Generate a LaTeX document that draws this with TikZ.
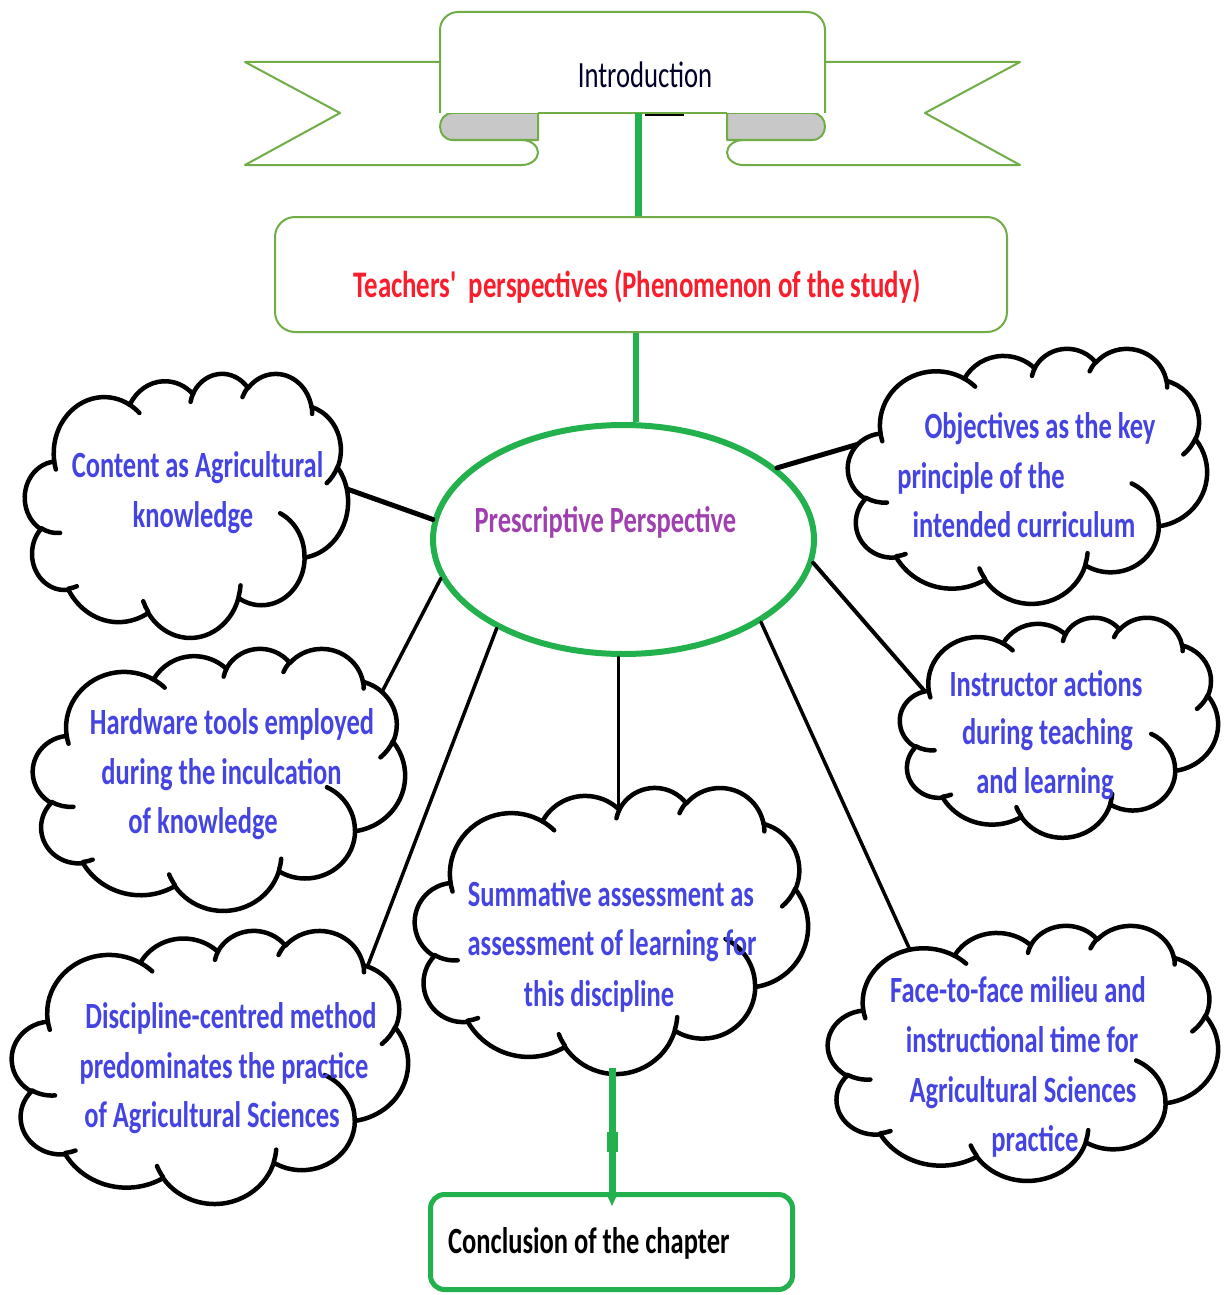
\documentclass[tikz,border=0pt]{standalone}
\usepackage{fontspec}
\setmainfont{Carlito}[FakeStretch=0.72]
\newfontfamily\boldcond{Carlito}[FakeStretch=0.716]
\usetikzlibrary{shapes.geometric}

\definecolor{bannerg}{RGB}{112,173,71}
\definecolor{linkg}{RGB}{34,177,76}
\definecolor{foldgray}{RGB}{200,200,200}
\definecolor{cloudblue}{RGB}{68,68,226}
\definecolor{perspurple}{RGB}{160,64,176}
\definecolor{teachred}{RGB}{250,30,45}

% Puff arcs of the cloud outline, given with visual angles on a 432x432 grid;
% each one is turned into a style holding the parametric start/end angles.
\newcommand\cloudarcdef[5]{%
  \pgfmathsetmacro\cldtmpa{atan2((#2)*sin(#4),(#3)*cos(#4))}%
  \pgfmathsetmacro\cldtmpb{atan2((#2)*sin((#4)+(#5)),(#3)*cos((#4)+(#5)))}%
  \pgfmathsetmacro\cldtmpb{\cldtmpb+360*round((\cldtmpa+(#5)-\cldtmpb)/360)}%
  \edef\cldtmpc{\noexpand\tikzset{cld#1/.style={start angle=\cldtmpa,end angle=\cldtmpb,x radius=#2,y radius=#3}}}%
  \cldtmpc}
% outline
\cloudarcdef{A}{67.53}{91.90}{-190.4875}{123.7805}
\cloudarcdef{B}{53.33}{72.67}{-144.1024}{89.9452}
\cloudarcdef{C}{43.65}{59.45}{-145.8079}{99.7230}
\cloudarcdef{D}{48.57}{65.95}{-130.9861}{117.2417}
\cloudarcdef{E}{53.33}{72.73}{-78.7089}{109.0269}
\cloudarcdef{F}{67.75}{92.20}{-46.2673}{130.2690}
\cloudarcdef{G}{57.85}{78.67}{0.6250}{114.0333}
\cloudarcdef{H}{67.52}{92.15}{22.4516}{115.1726}
\cloudarcdef{I}{77.20}{105.43}{66.2426}{75.7110}
\cloudarcdef{J}{43.60}{59.18}{-274.9421}{146.7356}
\cloudarcdef{K}{43.45}{59.45}{-246.8285}{152.5189}
% inner curls
\cloudarcdef{a}{43.45}{59.45}{86.7420}{26.4295}
\cloudarcdef{b}{43.60}{59.18}{73.6105}{11.4475}
\cloudarcdef{c}{67.52}{92.15}{137.6242}{14.0811}
\cloudarcdef{d}{67.52}{92.15}{6.4533}{15.9984}
\cloudarcdef{e}{57.85}{78.67}{-70.2924}{70.9174}
\cloudarcdef{f}{53.33}{72.73}{30.3180}{27.7515}
\cloudarcdef{g}{48.57}{65.95}{-13.7443}{14.8589}
\cloudarcdef{h}{48.57}{65.95}{-149.1815}{18.1954}
\cloudarcdef{i}{43.65}{59.45}{-163.4943}{17.6864}
\cloudarcdef{j}{67.53}{91.90}{-66.7070}{12.3194}
\cloudarcdef{k}{67.53}{91.90}{157.6544}{11.8582}

\tikzset{
  bannerline/.style={draw=bannerg, line width=2pt, line join=round},
  thickg/.style={draw=linkg, line width=7pt},
  cloudline/.style={draw=black, line width=4.5pt, line cap=round, line join=round},
  link/.style={draw=black, line cap=round},
  txt/.style={inner sep=0pt, anchor=base, font=\fontsize{37}{40}\selectfont},
  heavytxt/.style={txt, font=\fontsize{37}{40}\boldcond\bfseries},
  cltext/.style={heavytxt, text=cloudblue},
}

% cloud drawn into the box (left, top) -- (right, bottom)
\newcommand\wcloud[4]{%
  \pgfmathsetmacro\cldsx{((#3)-(#1))/432}%
  \pgfmathsetmacro\cldsy{((#4)-(#2))/432}%
  \begin{scope}[shift={(#1,#2)},x={(\cldsx pt,0pt)},y={(0pt,-\cldsy pt)}]
    \draw[cloudline,fill=white] (39.00,143.70) arc[cldA] arc[cldB] arc[cldC]
      arc[cldD] arc[cldE] arc[cldF] arc[cldG] arc[cldH] arc[cldI] arc[cldJ]
      arc[cldK] -- cycle;
    \draw[cloudline] (46.93,261.77) arc[clda] (69.28,348.99) arc[cldb]
      (164.78,390.90) arc[cldc] (288.27,347.51) arc[cldd]
      (341.29,229.54) arc[clde] (417.98,153.54) arc[cldf]
      (383.24,54.26) arc[cldg] (290.78,39.52) arc[cldh]
      (221.41,47.20) arc[cldi] (140.00,51.92) arc[cldj]
      (41.27,157.89) arc[cldk];
  \end{scope}}

\begin{document}
\begin{tikzpicture}[x=1pt,y=-1pt]
\useasboundingbox (0,0) rectangle (1227,1295);
\fill[white] (0,0) rectangle (1227,1295);

% ---------- ribbon banner ----------
\foreach \side in {1,-1}{
  \begin{scope}[shift={({632.5-632.5*\side},0)}, xscale=\side]
    \draw[bannerline, fill=white] (440,62) -- (245,62) -- (340,113) -- (245,165)
      -- (522,165) .. controls (531,165) and (538,159) .. (538,152.5)
      .. controls (538,146) and (531,140) .. (522,140);
    \draw[bannerline, fill=foldgray] (538,113) -- (453,113)
      .. controls (435.7,113) and (435.7,140) .. (453,140) -- (538,140) -- cycle;
  \end{scope}
}
\draw[bannerline, fill=white, rounded corners=18pt]
  (440,113) -- (440,12) -- (825,12) -- (825,113);
\draw[bannerline] (538,113) -- (727,113);
\node[txt, text=black!85!blue] (intro) at (645,88) {Introduction};
\coordinate (ib) at (638,113);
\draw[black, line width=2.5pt] (645,115) -- (684,115);

% ---------- study phenomenon ----------
\node[draw=bannerg, line width=2pt, rounded corners=20pt, fill=white,
      minimum width=732pt, minimum height=115pt, inner sep=0pt] (tp) at (641,274.5) {};
\node[heavytxt, text=teachred, font=\fontsize{37.5}{40}\boldcond\bfseries] (tpt) at (637,297)
  {Teachers\char"27\, perspectives (Phenomenon of the study)};
\draw[thickg] (ib) -- (ib |- tp.north);

% ---------- central perspective ----------
\node[ellipse, draw=linkg, line width=6pt, fill=white, inner sep=0pt,
      minimum width=381pt, minimum height=229pt] (pp) at (623.5,539.5) {};
\node[heavytxt, text=perspurple] (ppt) at (605.5,532) {Prescriptive Perspective};
\coordinate (lx) at (636,0);
\draw[thickg, line width=6pt] (lx |- tp.south) -- (lx |- pp.north);

% ---------- connectors to the clouds ----------
\coordinate (k1) at (347,489);
\coordinate (k2) at (383,690);
\coordinate (k3) at (368,965);
\coordinate (k4) at (618,805);
\coordinate (k5) at (886,436);
\coordinate (k6) at (935,703);
\coordinate (k7) at (910,950);
\draw[link, line width=5pt]   (pp.174) -- (k1);
\draw[link, line width=3.5pt] (pp.192) -- (k2);
\draw[link, line width=3.5pt] (pp.215) -- (k3);
\draw[link, line width=3pt]   (k4 |- pp.south) -- (k4);
\draw[link, line width=5pt]   (pp.25) -- (k5);
\draw[link, line width=4pt]   (pp.353) -- (k6);
\draw[link, line width=3.5pt] (pp.329) -- (k7);

% ---------- clouds ----------
\wcloud{25}{373}{348}{637}
\node[cltext] (t1a) at (197.5,477) {Content as Agricultural};
\node[cltext] (t1b) at (193,527) {knowledge};

\wcloud{33}{648}{405}{910}
\node[cltext] (t2a) at (232,734) {Hardware tools employed};
\node[cltext] (t2b) at (221.5,784) {during the inculcation};
\node[cltext] (t2c) at (203,833) {of knowledge};

\wcloud{12}{930}{408}{1203}
\node[cltext] (t3a) at (231,1028) {Discipline-centred method};
\node[cltext] (t3b) at (224,1078) {predominates the practice};
\node[cltext] (t3c) at (212,1127) {of Agricultural Sciences};

\wcloud{415}{787}{808}{1073}
\node[cltext] (t4a) at (611,906) {Summative assessment as};
\node[cltext] (t4b) at (612,955) {assessment of learning for};
\node[cltext] (t4c) at (599,1006) {this discipline};

\wcloud{848}{348}{1207}{603}
\node[cltext] (t5a) at (1040,438) {Objectives as the key};
\node[cltext] (t5b) at (981,488) {principle of the};
\node[cltext] (t5c) at (1024,537) {intended curriculum};

\wcloud{900}{617}{1218}{837}
\node[cltext] (t6a) at (1046,696) {Instructor actions};
\node[cltext] (t6b) at (1047.5,744) {during teaching};
\node[cltext] (t6c) at (1045,793) {and learning};

\wcloud{828}{925}{1218}{1180}
\node[cltext] (t7a) at (1018,1002) {Face-to-face milieu and};
\node[cltext] (t7b) at (1022,1052) {instructional time for};
\node[cltext] (t7c) at (1023,1102) {Agricultural Sciences};
\node[cltext] (t7d) at (1035,1151) {practice};

% ---------- conclusion ----------
\node[draw=linkg, line width=5pt, rounded corners=14pt, fill=white,
      minimum width=362pt, minimum height=95pt, inner sep=0pt] (cc) at (611.5,1242) {};
\node[heavytxt, anchor=base west, text=black] (cct) at (448,1253) {Conclusion of the chapter};
\coordinate (k8) at (612,1068);
\draw[thickg] (k8) -- (k8 |- cc.north);
\draw[linkg, line width=11pt] (612,1132) -- (612,1152);
\fill[linkg] (607,1195) -- (617,1195) -- (612,1206) -- cycle;
\end{tikzpicture}
\end{document}
